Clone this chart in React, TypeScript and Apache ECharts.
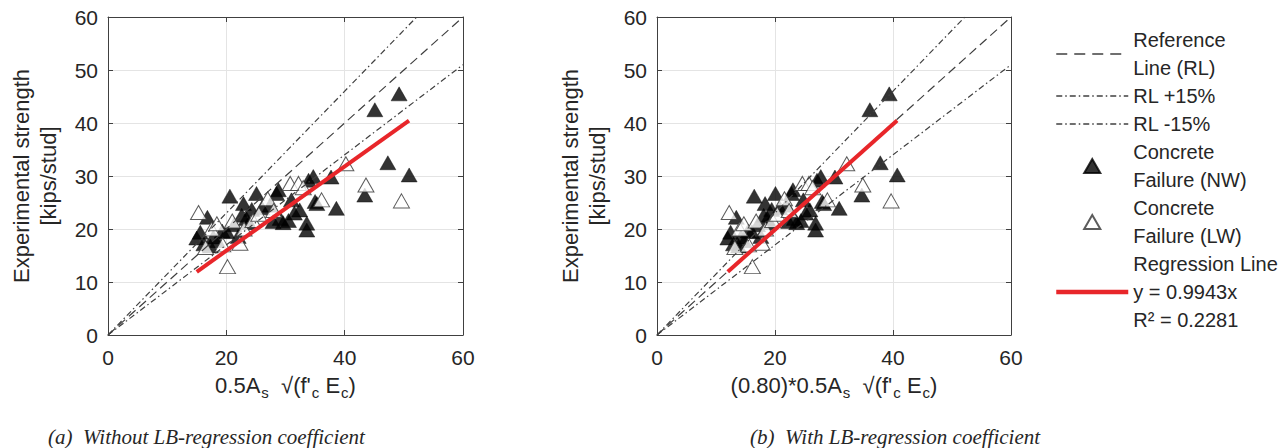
import React, { useEffect, useRef } from 'react';
import * as echarts from 'echarts';

// ---- Data (x as plotted in panel (a): 0.5As*sqrt(f'c Ec), y: experimental strength) ----
const nwX = [15.0, 15.6, 16.2, 16.8, 17.3, 17.8, 18.5, 19.3, 20.1, 20.6, 21.3, 22.0, 22.6, 22.9, 23.4, 23.8, 24.3, 25.1, 26.0, 27.4, 27.9, 28.5, 28.8, 29.1, 29.6, 30.5, 31.0, 31.5, 32.4, 33.6, 33.6, 33.9, 34.7, 35.0, 35.3, 37.7, 38.6, 43.4, 45.1, 47.3, 49.2, 50.9];
const nwY = [18.3, 19.4, 17.2, 22.2, 16.8, 18.5, 17.8, 19.6, 19.5, 26.2, 20.8, 18.6, 22.6, 24.8, 22.0, 21.2, 23.7, 26.7, 24.0, 24.5, 21.4, 26.7, 27.4, 22.0, 21.2, 21.6, 25.5, 23.0, 23.6, 21.1, 19.8, 29.2, 29.9, 25.2, 24.8, 29.8, 23.9, 26.4, 42.5, 32.5, 45.5, 30.2];
const lwX = [15.3, 16.5, 17.5, 18.4, 19.4, 20.2, 21.0, 22.3, 23.0, 24.5, 25.5, 27.0, 28.0, 30.8, 32.2, 33.0, 36.1, 40.2, 43.6, 49.6];
const lwY = [23.1, 16.5, 20.0, 21.0, 17.0, 12.9, 21.5, 17.3, 20.0, 21.6, 22.8, 25.7, 23.5, 28.6, 28.6, 27.8, 25.5, 32.3, 28.3, 25.3];

const LB_COEF = 0.8; // panel (b) x multiplier
const REF_FACTORS = [1.0, 1.15, 0.85];
const REG_SLOPE = 0.9943;
const REG_X_RANGE_B = [12.0, 40.7]; // regression line x extent in panel (b)

const X_TICKS = [0, 20, 40, 60];
const Y_TICKS = [0, 10, 20, 30, 40, 50, 60];

const LEGEND_NAMES = [
  'Reference\nLine (RL)',
  'RL +15%',
  'RL -15%',
  'Concrete\nFailure (NW)',
  'Concrete\nFailure (LW)',
  'Regression Line\ny = 0.9943x\nR² = 0.2281',
];

const FONT = '"Liberation Sans", Arial, Helvetica, sans-serif';
const SERIF = '"Liberation Serif", "Times New Roman", serif';
const TXT = '#262626';
const AXC = '#404040';
const RED = '#e8262a';

function zip(xs: number[], ys: number[], k: number) {
  return xs.map((x, i) => [x * k, ys[i]]);
}

function refLine(f: number) {
  const xmax = X_TICKS[X_TICKS.length - 1];
  const ymax = Y_TICKS[Y_TICKS.length - 1];
  const xEnd = Math.min(xmax, ymax / f);
  return [[0, 0], [xEnd, xEnd * f]];
}

const sub = (s: string) => `{s|${s}}`;
const nrm = (s: string) => `{n|${s}}`;

const richName = {
  n: { fontSize: 22, fontFamily: FONT, color: TXT },
  s: { fontSize: 15, fontFamily: FONT, color: TXT, padding: [14, 0, 0, 1] },
};

const TRI_ICON = 'path://M0,13 L7.5,0 L15,13 Z';

export default function App() {
  const ref = useRef<HTMLDivElement>(null);
  useEffect(() => {
    if (!ref.current) return;
    const chart = echarts.init(ref.current, undefined, { renderer: 'svg' });

    const xMin = X_TICKS[0], xMax = X_TICKS[X_TICKS.length - 1];
    const yMin = Y_TICKS[0], yMax = Y_TICKS[Y_TICKS.length - 1];
    const xInt = X_TICKS[1] - X_TICKS[0];
    const yInt = Y_TICKS[1] - Y_TICKS[0];

    const grids = [
      { left: 108, top: 17, width: 355, height: 318 },
      { left: 657, top: 17, width: 354, height: 318 },
    ];
    const xNames = [
      nrm('0.5A') + sub('s') + nrm('  √(f\'') + sub('c') + nrm(' E') + sub('c') + nrm(')'),
      nrm('(0.80)*0.5A') + sub('s') + nrm('  √(f\'') + sub('c') + nrm(' E') + sub('c') + nrm(')'),
    ];

    const boxAxis = { show: true, onZero: false, lineStyle: { color: AXC, width: 1 } };
    const tick = { show: true, inside: true, length: 5, lineStyle: { color: AXC } };
    const grid = { show: true, lineStyle: { color: '#e4e4e4', width: 1 } };

    const xAxis: any[] = [];
    const yAxis: any[] = [];
    grids.forEach((_, g) => {
      xAxis.push({
        type: 'value', gridIndex: g, min: xMin, max: xMax, interval: xInt, position: 'bottom',
        axisLine: boxAxis, axisTick: tick,
        axisLabel: { fontSize: 21, color: TXT, fontFamily: FONT, margin: 12 },
        splitLine: grid,
        name: xNames[g], nameLocation: 'middle', nameGap: 36,
        nameTextStyle: { rich: richName },
      });
      xAxis.push({
        type: 'value', gridIndex: g, min: xMin, max: xMax, interval: xInt, position: 'top',
        axisLine: boxAxis, axisTick: tick, axisLabel: { show: false }, splitLine: { show: false },
      });
      yAxis.push({
        type: 'value', gridIndex: g, min: yMin, max: yMax, interval: yInt, position: 'left',
        axisLine: boxAxis, axisTick: tick,
        axisLabel: { fontSize: 21, color: TXT, fontFamily: FONT, margin: 10 },
        splitLine: grid,
        name: 'Experimental strength\n[kips/stud]', nameLocation: 'middle', nameGap: 46, nameRotate: 90,
        nameTextStyle: { fontSize: 22, color: TXT, fontFamily: FONT, lineHeight: 27 },
      });
      yAxis.push({
        type: 'value', gridIndex: g, min: yMin, max: yMax, interval: yInt, position: 'right',
        axisLine: boxAxis, axisTick: tick, axisLabel: { show: false }, splitLine: { show: false },
      });
    });

    const lineTypes: any[] = [[9, 5], [6, 3, 1.5, 3], [6, 3, 1.5, 3]];
    const series: any[] = [];
    grids.forEach((_, g) => {
      const k = g === 0 ? 1 : LB_COEF;
      const xi = g * 2, yi = g * 2;
      series.push({
        type: 'scatter', name: LEGEND_NAMES[3], xAxisIndex: xi, yAxisIndex: yi,
        symbol: 'triangle', symbolSize: [16, 14], data: zip(nwX, nwY, k),
        itemStyle: { color: '#000000', borderColor: '#000000', borderWidth: 0.5 }, z: 2,
      });
      series.push({
        type: 'scatter', name: LEGEND_NAMES[4], xAxisIndex: xi, yAxisIndex: yi,
        symbol: 'triangle', symbolSize: [16, 14], data: zip(lwX, lwY, k),
        itemStyle: { color: '#ffffff', borderColor: '#333333', borderWidth: 1 }, z: 2,
      });
      REF_FACTORS.forEach((f, i) => {
        series.push({
          type: 'line', name: LEGEND_NAMES[i], xAxisIndex: xi, yAxisIndex: yi,
          data: refLine(f), symbol: 'none', z: 3,
          lineStyle: { color: '#404040', width: 1.2, type: lineTypes[i] },
          itemStyle: { color: '#404040' },
        });
      });
      const regData = REG_X_RANGE_B.map((xb) => [xb / LB_COEF * k, xb * REG_SLOPE]);
      series.push({
        type: 'line', name: LEGEND_NAMES[5], xAxisIndex: xi, yAxisIndex: yi,
        data: regData, symbol: 'none', z: 4,
        lineStyle: { color: RED, width: 4, cap: 'butt' },
        itemStyle: { color: RED },
      });
    });

    const hidden = { opacity: 0, borderWidth: 0 };
    chart.setOption({
      animation: false,
      backgroundColor: '#ffffff',
      textStyle: { fontFamily: FONT },
      grid: grids,
      xAxis,
      yAxis,
      series,
      legend: {
        orient: 'vertical', left: 1049, top: 21, itemWidth: 72, itemHeight: 14, itemGap: 0,
        selectedMode: false,
        data: [
          { name: LEGEND_NAMES[0], itemStyle: hidden, lineStyle: { width: 1.3, type: [11, 7] } },
          { name: LEGEND_NAMES[1], itemStyle: hidden, lineStyle: { width: 1.3, type: [6, 3, 1.5, 3] } },
          { name: LEGEND_NAMES[2], itemStyle: hidden, lineStyle: { width: 1.3, type: [6, 3, 1.5, 3] } },
          { name: LEGEND_NAMES[3], icon: TRI_ICON },
          { name: LEGEND_NAMES[4], icon: TRI_ICON },
          { name: LEGEND_NAMES[5], itemStyle: hidden, lineStyle: { width: 4.5, color: RED } },
        ],
        textStyle: { fontSize: 20, lineHeight: 28, color: TXT, fontFamily: FONT },
      },
      graphic: [
        {
          type: 'text', left: 48, top: 426,
          style: { text: '(a)  Without LB-regression coefficient', fontSize: 21, fontStyle: 'italic', fontFamily: SERIF, fill: TXT },
        },
        {
          type: 'text', left: 750, top: 426,
          style: { text: '(b)  With LB-regression coefficient', fontSize: 21, fontStyle: 'italic', fontFamily: SERIF, fill: TXT },
        },
      ],
    });
    return () => chart.dispose();
  }, []);
  return <div ref={ref} style={{ position: 'absolute', left: 0, top: 0, width: 1286, height: 448 }} />;
}
